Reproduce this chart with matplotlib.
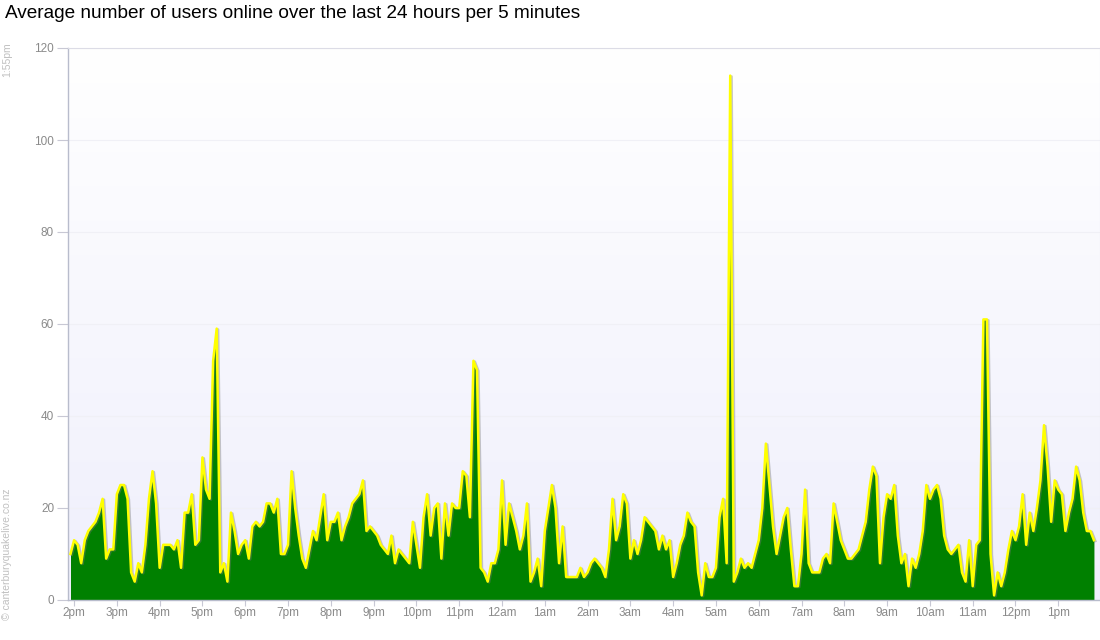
import numpy as np
import matplotlib.pyplot as plt
from matplotlib import patheffects
from matplotlib.colors import LinearSegmentedColormap

plt.rcParams['font.family'] = ['Liberation Sans', 'DejaVu Sans']

# average users online, one value per 5 minutes, starting 1:55pm (12 per row = 1 hour)
users = [
    10, 13, 12, 8, 13, 15, 16, 17, 19, 22, 9, 11,
    11, 23, 25, 25, 22, 6, 4, 8, 6, 12, 22, 28,
    21, 7, 12, 12, 12, 11, 13, 7, 19, 19, 23, 12,
    13, 31, 24, 22, 52, 59, 6, 8, 4, 19, 15, 10,
    12, 13, 9, 16, 17, 16, 17, 21, 21, 19, 22, 10,
    10, 12, 28, 20, 14, 9, 7, 11, 15, 13, 18, 23,
    13, 17, 17, 19, 13, 16, 18, 21, 22, 23, 26, 15,
    16, 15, 14, 12, 11, 10, 14, 8, 11, 10, 9, 8,
    17, 12, 7, 18, 23, 14, 20, 21, 9, 21, 14, 21,
    20, 20, 28, 27, 18, 52, 50, 7, 6, 4, 8, 8,
    11, 26, 12, 21, 18, 15, 11, 14, 21, 4, 6, 9,
    3, 15, 20, 25, 20, 8, 16, 5, 5, 5, 5, 7,
    5, 6, 8, 9, 8, 7, 5, 11, 22, 13, 16, 23,
    21, 9, 13, 10, 13, 18, 17, 16, 15, 11, 14, 11,
    13, 5, 8, 12, 14, 19, 17, 16, 6, 1, 8, 5,
    5, 7, 18, 22, 8, 114, 4, 6, 9, 7, 8, 7,
    10, 13, 20, 34, 25, 16, 10, 14, 18, 20, 11, 3,
    3, 10, 24, 8, 6, 6, 6, 9, 10, 8, 21, 17,
    13, 11, 9, 9, 10, 11, 14, 17, 24, 29, 27, 8,
    18, 23, 22, 25, 14, 8, 10, 3, 9, 7, 10, 15,
    25, 22, 24, 25, 22, 14, 11, 10, 11, 12, 6, 4,
    13, 3, 12, 13, 61, 61, 10, 1, 6, 3, 6, 11,
    15, 13, 16, 23, 12, 19, 15, 20, 26, 38, 29, 17,
    26, 24, 23, 15, 19, 22, 29, 26, 19, 15, 15, 13,
]

hour_labels = ['2pm', '3pm', '4pm', '5pm', '6pm', '7pm', '8pm', '9pm', '10pm', '11pm',
               '12am', '1am', '2am', '3am', '4am', '5am', '6am', '7am', '8am', '9am',
               '10am', '11am', '12pm', '1pm']
y_ticks = [0, 20, 40, 60, 80, 100, 120]

fig = plt.figure(figsize=(11, 6.4), dpi=100)
ax = fig.add_axes([68 / 1100, 40 / 640, 1032 / 1100, 552 / 640])

x = np.arange(len(users))
ax.set_xlim(-0.7, 288.7)
ax.set_ylim(0, 120)

# soft lavender gradient behind the plot
bg = LinearSegmentedColormap.from_list('bg', ['#ffffff', '#efeffc'])
ax.imshow(np.linspace(0, 1, 256).reshape(-1, 1), cmap=bg, aspect='auto',
          extent=[0, 1, 0, 1], transform=ax.transAxes, zorder=0)

ax.fill_between(x, users, color='#008000', linewidth=0, zorder=2)
ax.plot(x, users, color='#ffff00', lw=1.8, zorder=3,
        path_effects=[patheffects.SimpleLineShadow(offset=(1.0, -0.6), shadow_color='#777777', alpha=0.4),
                      patheffects.Normal()])

ax.set_yticks(y_ticks)
ax.set_xticks(x[1::12])
ax.set_xticklabels(hour_labels)
ax.yaxis.grid(True, color='#f0f0f6', lw=0.8, zorder=1)
ax.set_axisbelow(True)

ax.tick_params(axis='y', length=8, width=0.8, color='#c8c8d4', labelcolor='#8a8a8a',
               labelsize=8.5, pad=2)
ax.tick_params(axis='x', length=4, width=0.8, color='#c8c8d4', labelcolor='#8a8a8a',
               labelsize=8.5, pad=1)

for side in ['left', 'bottom']:
    ax.spines[side].set_color('#b8bccc')
    ax.spines[side].set_linewidth(1)
ax.spines['top'].set_color('#dcdce6')
ax.spines['right'].set_color('#e6e6ee')

fig.text(5 / 1100, 1 - 5 / 640, 'Average number of users online over the last 24 hours per 5 minutes',
         fontsize=13.7, color='black', ha='left', va='top')
fig.text(7 / 1100, 1 - 42 / 640, '1:55pm', rotation=90, fontsize=7.5, color='#c0c0c0',
         ha='center', va='top')
fig.text(7 / 1100, 1 - 620 / 640, '\u00a9 canterburyquakelive.co.nz', rotation=90, fontsize=7.5,
         color='#c0c0c0', ha='center', va='bottom')

fig.savefig('out.png', dpi=100)
